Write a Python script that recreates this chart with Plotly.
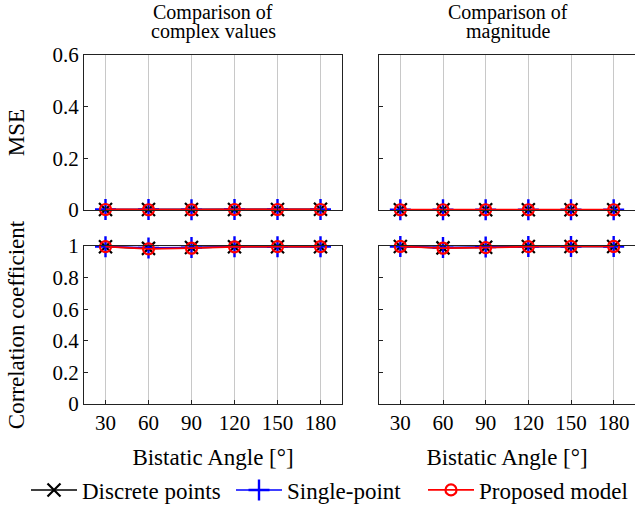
import plotly.graph_objects as go

W, H = 635, 506

angles = [30, 60, 90, 120, 150, 180]
x_ticks = [30, 60, 90, 120, 150, 180]

# MSE - complex values
mse_cplx_discrete = [0.002, 0.002, 0.002, 0.002, 0.002, 0.003]
mse_cplx_single = [0.002, 0.002, 0.001, 0.002, 0.002, 0.002]
mse_cplx_proposed = [0.002, 0.001, 0.001, 0.002, 0.002, 0.002]
# MSE - magnitude
mse_mag_discrete = [0.001, 0.001, 0.001, 0.001, 0.001, 0.001]
mse_mag_single = [0.001, 0.001, 0.001, 0.001, 0.001, 0.001]
mse_mag_proposed = [0.001, 0.001, 0.001, 0.001, 0.001, 0.001]
# Correlation - complex values
cc_cplx_discrete = [0.995, 0.985, 0.99, 0.995, 0.995, 0.995]
cc_cplx_single = [0.996, 0.988, 0.99, 0.996, 0.996, 0.996]
cc_cplx_proposed = [0.996, 0.982, 0.986, 0.995, 0.996, 0.996]
# Correlation - magnitude
cc_mag_discrete = [0.997, 0.988, 0.992, 0.997, 0.997, 0.997]
cc_mag_single = [0.997, 0.99, 0.993, 0.997, 0.997, 0.997]
cc_mag_proposed = [0.997, 0.986, 0.99, 0.996, 0.997, 0.997]

series_names = ["Discrete points", "Single-point", "Proposed model"]
col_titles = [["Comparison of", "complex values"], ["Comparison of", "magnitude"]]

FONT = "Liberation Serif, Times New Roman, DejaVu Serif, serif"
TXT = 23
TICK = 21

def px_x(p):
    return p / W

def px_y(p):
    return 1 - p / H

fig = go.Figure()

styles = [
    dict(color="black", symbol="x-thin", size=13, lw=1.6, mlw=2.2, legend="legend"),
    dict(color="#0000ff", symbol="cross-thin", size=15, lw=1.6, mlw=2.4, legend="legend2"),
    dict(color="#ff0000", symbol="circle-open", size=11, lw=1.8, mlw=2.2, legend="legend3"),
]

panels = [
    ("x", "y", [mse_cplx_discrete, mse_cplx_single, mse_cplx_proposed], True),
    ("x2", "y2", [mse_mag_discrete, mse_mag_single, mse_mag_proposed], False),
    ("x3", "y3", [cc_cplx_discrete, cc_cplx_single, cc_cplx_proposed], False),
    ("x4", "y4", [cc_mag_discrete, cc_mag_single, cc_mag_proposed], False),
]

for xa, ya, data, showleg in panels:
    for name, vals, st in zip(series_names, data, styles):
        fig.add_trace(go.Scatter(
            x=angles, y=vals, xaxis=xa, yaxis=ya, name=name,
            legendgroup=name, showlegend=showleg, legend=st["legend"],
            mode="lines+markers", cliponaxis=False,
            line=dict(color=st["color"], width=st["lw"]),
            marker=dict(symbol=st["symbol"], size=st["size"], color=st["color"],
                        line=dict(color=st["color"], width=st["mlw"])),
        ))

xl = [px_x(84), px_x(342)]
xr = [px_x(379), 1.0]
yt = [px_y(210), px_y(55)]
yb = [px_y(404), px_y(246)]

common_x = dict(range=[15, 195], tickvals=x_ticks, showgrid=True, gridcolor="#c8c8c8",
                gridwidth=1, showline=True, mirror=True, linecolor="#222", linewidth=1,
                ticks="inside", ticklen=4, tickcolor="#222", zeroline=False,
                automargin=False,
                tickfont=dict(family=FONT, size=TICK, color="black"))
common_y = dict(showgrid=False, showline=True, mirror=True, linecolor="#222", linewidth=1,
                ticks="inside", ticklen=4, tickcolor="#222", zeroline=False,
                automargin=False,
                tickfont=dict(family=FONT, size=TICK, color="black"))

def leg(xpx):
    return dict(orientation="h", x=px_x(xpx), xanchor="left", y=px_y(490), yanchor="middle",
                font=dict(family=FONT, size=TXT), itemwidth=46,
                bgcolor="rgba(0,0,0,0)")

fig.update_layout(
    width=W, height=H, margin=dict(l=0, r=0, t=0, b=0, autoexpand=False),
    plot_bgcolor="white", paper_bgcolor="white",
    font=dict(family=FONT, size=TXT, color="black"),
    xaxis=dict(domain=xl, anchor="y", showticklabels=False, **common_x),
    xaxis2=dict(domain=xr, anchor="y2", showticklabels=False, **common_x),
    xaxis3=dict(domain=xl, anchor="y3", title=dict(text="Bistatic Angle [°]", standoff=14,
                font=dict(family=FONT, size=TXT)), **common_x),
    xaxis4=dict(domain=xr, anchor="y4", title=dict(text="Bistatic Angle [°]", standoff=14,
                font=dict(family=FONT, size=TXT)), **common_x),
    yaxis=dict(domain=yt, anchor="x", range=[0, 0.6], tickvals=[0, 0.2, 0.4, 0.6],
               ticktext=["0", "0.2", "0.4", "0.6"],
               title=dict(text="MSE", standoff=21, font=dict(family=FONT, size=TXT)), **common_y),
    yaxis2=dict(domain=yt, anchor="x2", range=[0, 0.6], tickvals=[0, 0.2, 0.4, 0.6],
                showticklabels=False, **common_y),
    yaxis3=dict(domain=yb, anchor="x3", range=[0, 1], tickvals=[0, 0.2, 0.4, 0.6, 0.8, 1],
                ticktext=["0", "0.2", "0.4", "0.6", "0.8", "1"],
                title=dict(text="Correlation coefficient", standoff=21,
                           font=dict(family=FONT, size=TXT)), **common_y),
    yaxis4=dict(domain=yb, anchor="x4", range=[0, 1], tickvals=[0, 0.2, 0.4, 0.6, 0.8, 1],
                showticklabels=False, **common_y),
    legend=leg(26),
    legend2=leg(231),
    legend3=leg(423),
)

centers = [px_x(213), px_x(508)]
for cx, lines in zip(centers, col_titles):
    for i, t in enumerate(lines):
        fig.add_annotation(text=t, x=cx, y=px_y(13 + 19 * i), xref="paper", yref="paper",
                           showarrow=False, xanchor="center", yanchor="middle",
                           font=dict(family=FONT, size=20, color="black"))

fig.write_html("out.html")
